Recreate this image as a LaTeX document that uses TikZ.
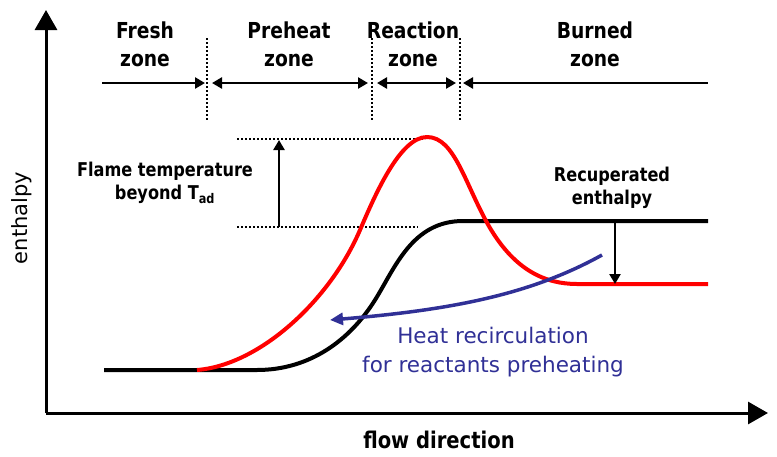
\documentclass[tikz,border=0pt]{standalone}
\usepackage{fontspec}
\setmainfont{DejaVu Sans}
\newfontfamily\condbf[FakeStretch=0.85]{DejaVu Sans Bold}
\usetikzlibrary{arrows.meta}
\definecolor{navy}{RGB}{48,48,150}
\definecolor{pred}{RGB}{255,0,0}
\tikzset{
  axisline/.style={line width=3pt,-{Triangle[length=20pt,width=22pt]}},
  zonearr/.style={line width=2.5pt},
  zt/.tip={Triangle[length=10pt,width=11pt]},
  sep/.style={line width=2pt,dotted},
  zonelbl/.style={font=\condbf\fontsize{22}{28}\selectfont,align=center},
  smalllbl/.style={font=\condbf\fontsize{19}{23}\selectfont,align=center},
  bluelbl/.style={font=\fontsize{21.5}{29}\selectfont,align=center,text=navy},
  axislbl/.style={font=\fontsize{21}{25}\selectfont},
  curve/.style={line width=4pt,line join=round},
}
\begin{document}
\begin{tikzpicture}[x=1pt,y=-1pt]
\useasboundingbox (0,0) rectangle (777,456);
% axes
\coordinate (O) at (46,413);
\coordinate (ytip) at (46,10);
\coordinate (xtip) at (768,413);
\draw[axisline] (O) -- (ytip);
\draw[axisline] (O) -- (xtip);
\node[axislbl,rotate=90] (ylab) at (22,218) {enthalpy};
\node[font=\condbf\fontsize{23}{27}\selectfont] (xlab) at (439,440) {flow direction};
% zone separators
\coordinate (s1t) at (207,38); \coordinate (s1b) at (207,121);
\coordinate (s2t) at (372,38); \coordinate (s2b) at (372,121);
\coordinate (s3t) at (460,38); \coordinate (s3b) at (460,121);
\draw[sep] (s1t) -- (s1b);
\draw[sep] (s2t) -- (s2b);
\draw[sep] (s3t) -- (s3b);
% zone arrows
\coordinate (a1) at (102,83); \coordinate (a2) at (205,83);
\coordinate (a3) at (212,83); \coordinate (a4) at (368,83);
\coordinate (a5) at (377,83); \coordinate (a6) at (456,83);
\coordinate (a7) at (463,83); \coordinate (a8) at (708,83);
\draw[zonearr,-zt] (a1) -- (a2);
\draw[zonearr,zt-zt] (a3) -- (a4);
\draw[zonearr,zt-zt] (a5) -- (a6);
\draw[zonearr,zt-] (a7) -- (a8);
\node[zonelbl] (fresh) at (145,44) {Fresh\\zone};
\node[zonelbl] (preheat) at (289,44) {Preheat\\zone};
\node[zonelbl] (reaction) at (413,44) {Reaction\\zone};
\node[zonelbl] (burned) at (595,44) {Burned\\zone};
% dotted reference lines
\coordinate (d1l) at (237,139); \coordinate (d1r) at (425,139);
\coordinate (d2l) at (237,227); \coordinate (d2r) at (418,227);
\draw[sep] (d1l) -- (d1r);
\draw[sep] (d2l) -- (d2r);
\coordinate (fb) at (279,227); \coordinate (ft) at (279,140);
\draw[zonearr,-zt] (fb) -- (ft);
\node[smalllbl] (flame) at (165,183) {Flame temperature\\beyond T\textsubscript{ad}};
% black curve
\draw[curve] (104,370) -- (257,370)
  .. controls (310,370) and (350,340) .. (375,300)
  .. controls (395,268) and (412,221) .. (463,221) -- (708,221);
% red curve
\draw[curve,pred] (197,370)
  .. controls (260,365) and (330,300) .. (360,230)
  .. controls (375,195) and (400,137) .. (427,137)
  .. controls (455,137) and (465,185) .. (490,228)
  .. controls (515,270) and (545,284) .. (577,284) -- (708,284);
% recuperated enthalpy arrow
\coordinate (rt) at (615,221); \coordinate (rb) at (615,284);
\draw[zonearr,-zt] (rt) -- (rb);
\node[smalllbl] (recup) at (612,188) {Recuperated\\enthalpy};
% blue recirculation arrow
\coordinate (bs) at (602,255); \coordinate (be) at (330,320);
\draw[line width=3.5pt,navy,-{Triangle[length=13pt,width=12pt]}] (bs) .. controls (530,295) and (450,310) .. (be);
\node[bluelbl] (heat) at (493,352) {Heat recirculation\\for reactants preheating};
\end{tikzpicture}
\end{document}
